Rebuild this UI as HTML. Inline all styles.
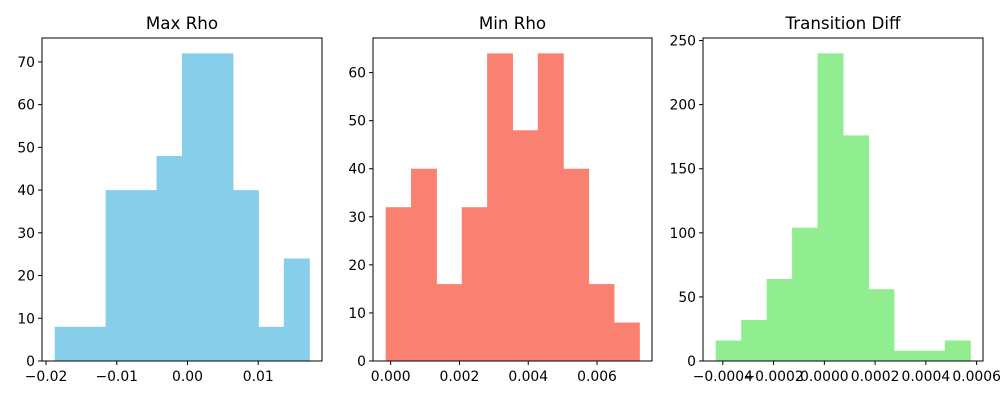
<!DOCTYPE html>
<html><head><meta charset="utf-8"><style>
html,body{margin:0;padding:0;background:#fff;width:1000px;height:400px;overflow:hidden}
text{font-family:"DejaVu Sans","Liberation Sans",sans-serif}
</style></head><body>
<svg id="chart" width="1000" height="400" xmlns="http://www.w3.org/2000/svg"></svg>
<script>
const titles = ["Max Rho", "Min Rho", "Transition Diff"];
const colors = ["#87ceeb", "#fa8072", "#90ee90"];
const countsMax = [8, 8, 40, 40, 48, 72, 72, 40, 8, 24];
const countsMin = [32, 40, 16, 32, 64, 48, 64, 40, 16, 8];
const countsDiff = [16, 32, 64, 104, 240, 176, 56, 8, 8, 16];
const rangeMax = [-0.01877, 0.01722];
const rangeMin = [-0.000145, 0.00723];
const rangeDiff = [-0.000428, 0.000575];
const xTicksMax = [-0.02, -0.01, 0.00, 0.01];
const xTickLabelsMax = ["−0.02", "−0.01", "0.00", "0.01"];
const xTicksMin = [0, 0.002, 0.004, 0.006];
const xTickLabelsMin = ["0.000", "0.002", "0.004", "0.006"];
const xTicksDiff = [-0.0004, -0.0002, 0, 0.0002, 0.0004, 0.0006];
const xTickLabelsDiff = ["−0.0004", "−0.0002", "0.0000", "0.0002", "0.0004", "0.0006"];
const yTicksMax = [0, 10, 20, 30, 40, 50, 60, 70];
const yTicksMin = [0, 10, 20, 30, 40, 50, 60];
const yTicksDiff = [0, 50, 100, 150, 200, 250];

const panels = [
 {counts: countsMax, range: rangeMax, xt: xTicksMax, xl: xTickLabelsMax, yt: yTicksMax, x0: 42, x1: 322, key: "max-rho"},
 {counts: countsMin, range: rangeMin, xt: xTicksMin, xl: xTickLabelsMin, yt: yTicksMin, x0: 373, x1: 652, key: "min-rho"},
 {counts: countsDiff, range: rangeDiff, xt: xTicksDiff, xl: xTickLabelsDiff, yt: yTicksDiff, x0: 703, x1: 983, key: "transition-diff"}
];
const svg = document.getElementById('chart');
const NS = "http://www.w3.org/2000/svg";
function mk(tag, attrs, parent){const e=document.createElementNS(NS,tag);for(const k in attrs)e.setAttribute(k,attrs[k]);parent.appendChild(e);return e;}
const yTop = 38, yBot = 361;
panels.forEach((p, i) => {
  const g = mk('g', {}, svg);
  
  
  const w = p.range[1] - p.range[0];
  const lo = p.range[0] - 0.05 * w, hi = p.range[1] + 0.05 * w;
  const xs = v => p.x0 + (v - lo) / (hi - lo) * (p.x1 - p.x0);
  const ymax = Math.max(...p.counts) * 1.05;
  const ys = v => yBot - v / ymax * (yBot - yTop);
  const bw = w / p.counts.length;
  p.counts.forEach((c, j) => {
    const a = xs(p.range[0] + j * bw), b = xs(p.range[0] + (j + 1) * bw);
    const r = mk('rect', {x: a, y: ys(c), width: b - a + 0.5, height: yBot - ys(c), fill: colors[i]}, g);
    
    
  });
  const frame = mk('rect', {x: p.x0, y: yTop, width: p.x1 - p.x0, height: yBot - yTop, fill: 'none', stroke: '#000', 'stroke-width': 1}, g);
  
  
  p.xt.forEach((t, j) => {
    const x = xs(t);
    mk('line', {x1: x, x2: x, y1: yBot, y2: yBot + 4, stroke: '#000'}, g);
    const tx = mk('text', {x: x, y: yBot + 20, 'text-anchor': 'middle', 'font-size': 13.9}, g);
    tx.textContent = p.xl[j];
    
    
  });
  p.yt.forEach(t => {
    const y = ys(t);
    mk('line', {x1: p.x0 - 4, x2: p.x0, y1: y, y2: y, stroke: '#000'}, g);
    const tx = mk('text', {x: p.x0 - 7, y: y + 5, 'text-anchor': 'end', 'font-size': 13.9}, g);
    tx.textContent = t;
    
    
  });
  const tt = mk('text', {x: (p.x0 + p.x1) / 2, y: 29, 'text-anchor': 'middle', 'font-size': 16.7}, g);
  tt.textContent = titles[i];
  
  
});
</script>
</body></html>
